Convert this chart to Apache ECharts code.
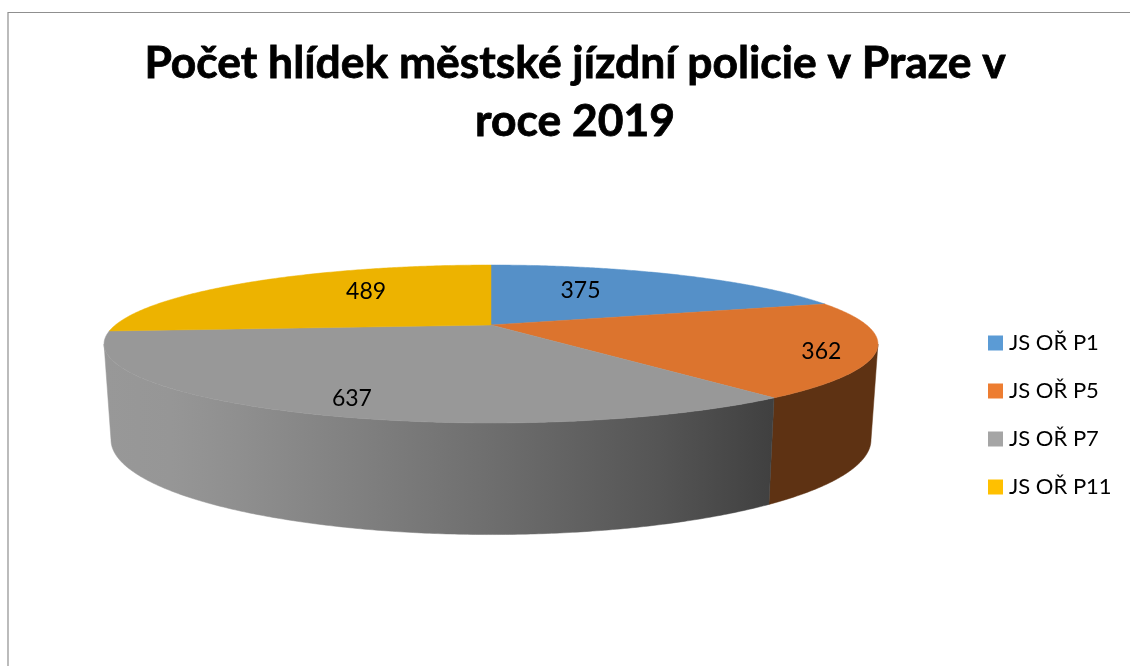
<!DOCTYPE html>
<html>
<head>
<meta charset="utf-8">
<style>
    html, body { margin: 0; padding: 0; background: #fff; }
    #chart { width: 1130px; height: 666px; }
</style>
<script src="https://cdn.jsdelivr.net/npm/echarts@6/dist/echarts.min.js"></script>
</head>
<body>
<div id="chart"></div>
<script>
    const titleText = 'Počet hlídek městské jízdní policie v Praze v\nroce 2019'
    const categories = ['JS OŘ P1', 'JS OŘ P5', 'JS OŘ P7', 'JS OŘ P11']
    const values = [375, 362, 637, 489]
    const legendColors = ['#5b9bd5', '#ed7d31', '#a5a5a5', '#ffc000']
    const faceColors = ['#5590c8', '#dc742e', '#989898', '#edb300']

    // label spot per slice: degrees away from the slice middle, fraction of the radius
    const labelSpots = [[-10, 0.61], [3, 0.87], [-3, 0.84], [12, 0.65]]

    // tilted disc, the perspective is what makes the front half bigger
    const disc = { cx: 491, cy: 325, a: 74.4, b: 375.6, k: 0.2405 }
    const wall = { drop: 92, stretchY: 1.2, shrinkX: 0.982 }

    const total = values.reduce((s, v) => s + v, 0)
    const rad = d => d * Math.PI / 180

    function project(u, v) {
        const w = 1 - disc.k * v
        return [disc.cx + u * disc.b / w, disc.cy + v * disc.a / w]
    }
    function topPoint(deg, r) {
        const f = r === undefined ? 1 : r
        return project(f * Math.sin(rad(deg)), -f * Math.cos(rad(deg)))
    }
    function bottomPoint(deg) {
        const p = topPoint(deg)
        return [
            disc.cx + (p[0] - disc.cx) * wall.shrinkX,
            disc.cy + wall.drop + (p[1] - disc.cy) * wall.stretchY
        ]
    }
    function arc(from, to, fn) {
        const pts = []
        const n = Math.max(2, Math.ceil((to - from) * 2))
        for (let i = 0; i <= n; i++) pts.push(fn(from + (to - from) * i / n))
        return pts
    }

    // visible side of the cylinder, between the two outline tangents
    const frontFrom = Math.acos(-disc.k) * 180 / Math.PI
    const frontTo = 360 - frontFrom

    const wallStyles = [
        null,
        '#5e3213',
        new echarts.graphic.LinearGradient(105, 0, 772, 0, [
            { offset: 0, color: '#989898' },
            { offset: 0.1, color: '#969696' },
            { offset: 0.2, color: '#8f8f8f' },
            { offset: 0.38, color: '#808080' },
            { offset: 0.58, color: '#6e6e6e' },
            { offset: 0.83, color: '#555555' },
            { offset: 1, color: '#404040' }
        ], true),
        null
    ]

    const seriesList = categories.map((name, i) => ({
        name: name,
        type: 'custom',
        coordinateSystem: 'none',
        itemStyle: { color: legendColors[i] },
        data: [values[i]],
        z: 2,
        renderItem(params, api) {
            const before = values.slice(0, i).reduce((s, v) => s + v, 0)
            const from = before / total * 360
            const to = (before + api.value(0)) / total * 360
            const children = []

            const wallFrom = Math.max(from, frontFrom)
            const wallTo = Math.min(to, frontTo)
            if (wallTo > wallFrom && wallStyles[i]) {
                children.push({
                    type: 'polygon',
                    shape: { points: arc(wallFrom, wallTo, topPoint).concat(arc(wallFrom, wallTo, bottomPoint).reverse()) },
                    style: { fill: wallStyles[i], stroke: wallStyles[i], lineWidth: 0.5 }
                })
            }

            children.push({
                type: 'polygon',
                shape: { points: [[disc.cx, disc.cy]].concat(arc(from, to, topPoint)) },
                style: { fill: faceColors[i], stroke: faceColors[i], lineWidth: 0.5 },
                z2: 5
            })

            const spot = topPoint((from + to) / 2 + labelSpots[i][0], labelSpots[i][1])
            children.push({
                type: 'text',
                x: spot[0],
                y: spot[1] + 2,
                z2: 10,
                style: {
                    text: String(api.value(0)),
                    fill: '#000',
                    font: '23px Lato',
                    align: 'center',
                    verticalAlign: 'middle'
                }
            })
            return { type: 'group', children: children }
        }
    }))

    const option = {
        animation: false,
        backgroundColor: '#fff',
        title: {
            text: titleText,
            left: 570,
            top: 30,
            textAlign: 'center',
            textStyle: {
                fontFamily: 'Lato',
                fontWeight: 'bold',
                fontSize: 44.4,
                lineHeight: 58,
                color: '#000',
                textBorderColor: '#000',
                textBorderWidth: 0.8
            }
        },
        legend: {
            data: categories,
            orient: 'vertical',
            left: 988,
            top: 332,
            padding: 0,
            icon: 'rect',
            itemWidth: 15,
            itemHeight: 15,
            itemGap: 26,
            textStyle: { fontFamily: 'Lato', fontSize: 22, color: '#000', padding: [0, 0, 0, 1] }
        },
        graphic: [{
            type: 'polyline',
            shape: { points: [[8, 666], [8, 12.5], [1130, 12.5]] },
            style: { stroke: '#8f8f8f', lineWidth: 1.2, fill: null }
        }],
        series: seriesList
    }

    const chart = echarts.init(document.getElementById('chart'))
    chart.setOption(option)
    window.addEventListener('resize', () => chart.resize())
</script>
</body>
</html>
